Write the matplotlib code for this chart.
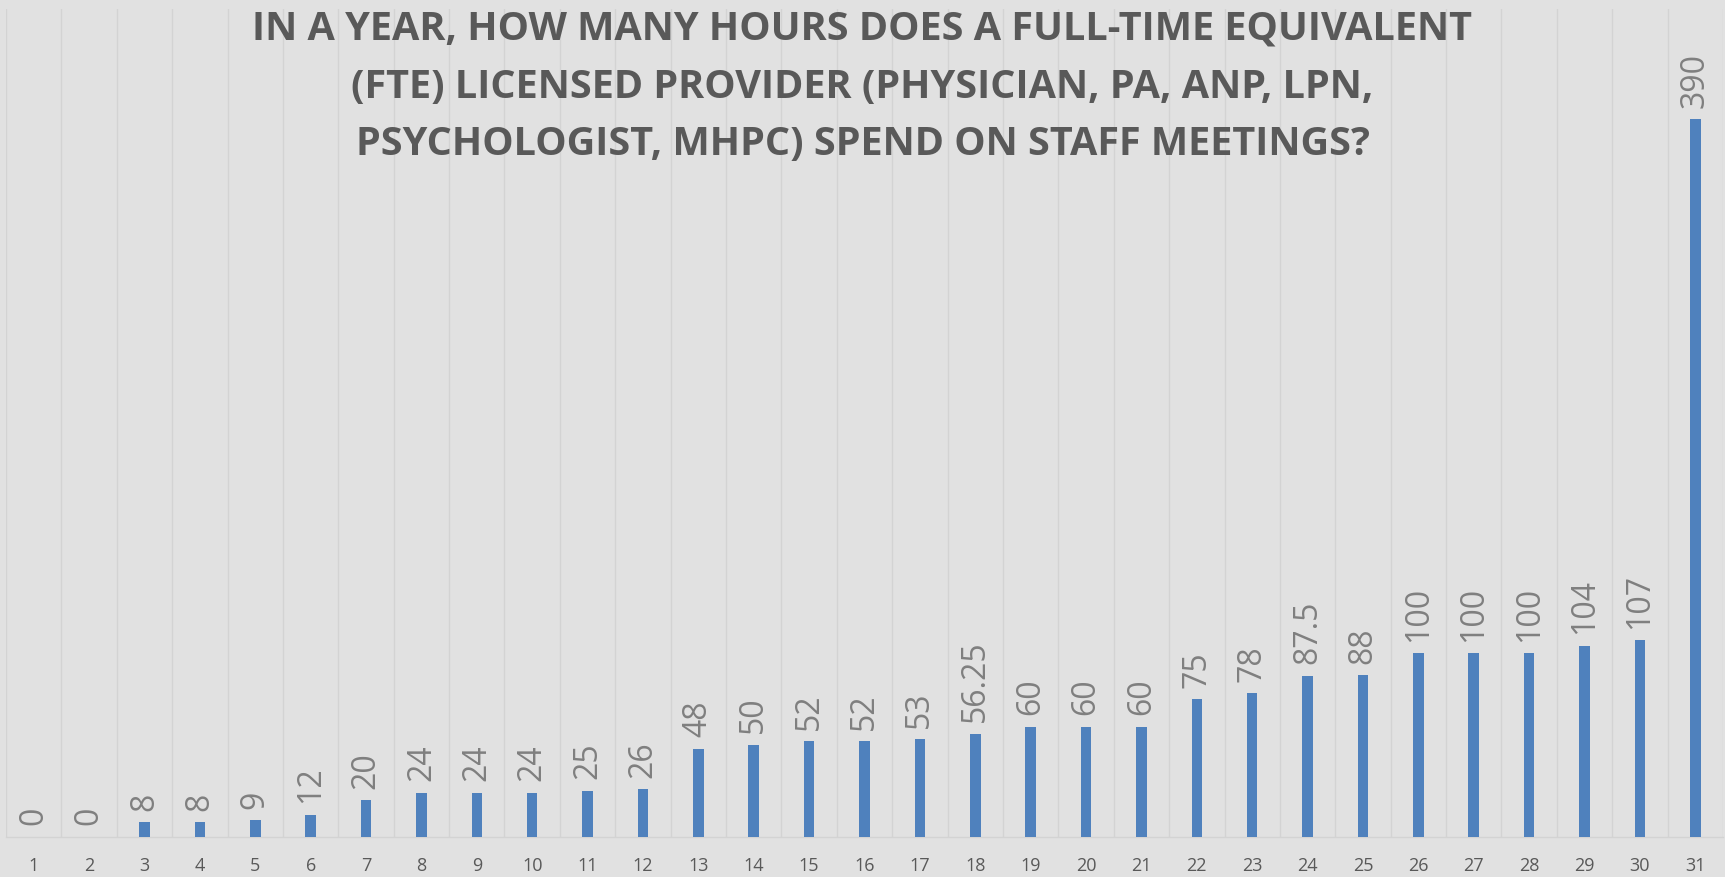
import numpy as np
import matplotlib
matplotlib.use("Agg")
import matplotlib.pyplot as plt

# chart data
categories = [str(i) for i in range(1, 32)]
hours = [0, 0, 8, 8, 9, 12, 20, 24, 24, 24, 25, 26, 48, 50, 52, 52, 53, 56.25,
         60, 60, 60, 75, 78, 87.5, 88, 100, 100, 100, 104, 107, 390]
title = ("IN A YEAR, HOW MANY HOURS DOES A FULL-TIME EQUIVALENT\n"
         "(FTE) LICENSED PROVIDER (PHYSICIAN, PA, ANP, LPN,\n"
         "PSYCHOLOGIST, MHPC) SPEND ON STAFF MEETINGS?")

bg = '#e1e1e1'
bar_col = '#4f81bd'
lab_col = '#7f7f7f'
txt_col = '#595959'

W, H = 1725, 878
fig = plt.figure(figsize=(W/100, H/100), dpi=100, facecolor=bg)
ax = fig.add_axes([6/W, (H-838)/H, (1723-6)/W, (838-10)/H])
ax.set_facecolor(bg)

x = np.arange(len(hours))
ax.bar(x, hours, width=0.19, color=bar_col, zorder=3)

for xi, v in zip(x, hours):
    s = ('%g' % v)
    ax.annotate(s, (xi, v), xytext=(0, 9), textcoords='offset points',
                rotation=90, ha='center', va='bottom', fontsize=23,
                family='Open Sans', color=lab_col, zorder=4)

ax.set_xlim(-0.5, len(hours)-0.5)
ax.set_ylim(0, 450)
ax.set_xticks(x)
ax.set_xticklabels(categories, fontsize=13, family='Open Sans', color=txt_col)
ax.tick_params(axis='x', length=0, pad=14)
ax.set_yticks([])
for xb in np.arange(-0.5, len(hours), 1.0):
    ax.axvline(xb, color='#d3d3d3', lw=1.0, zorder=1)
for sp in ['top', 'right', 'left']:
    ax.spines[sp].set_visible(False)
ax.spines['bottom'].set_color('#d3d3d3')
ax.spines['bottom'].set_linewidth(1.0)

fig.text(0.5, 1 - 10/H, title, ha='center', va='top', fontsize=28.5,
         fontweight='bold', family='Open Sans', color=txt_col,
         linespacing=1.62)

fig.savefig("out.png", dpi=100, facecolor=bg)
